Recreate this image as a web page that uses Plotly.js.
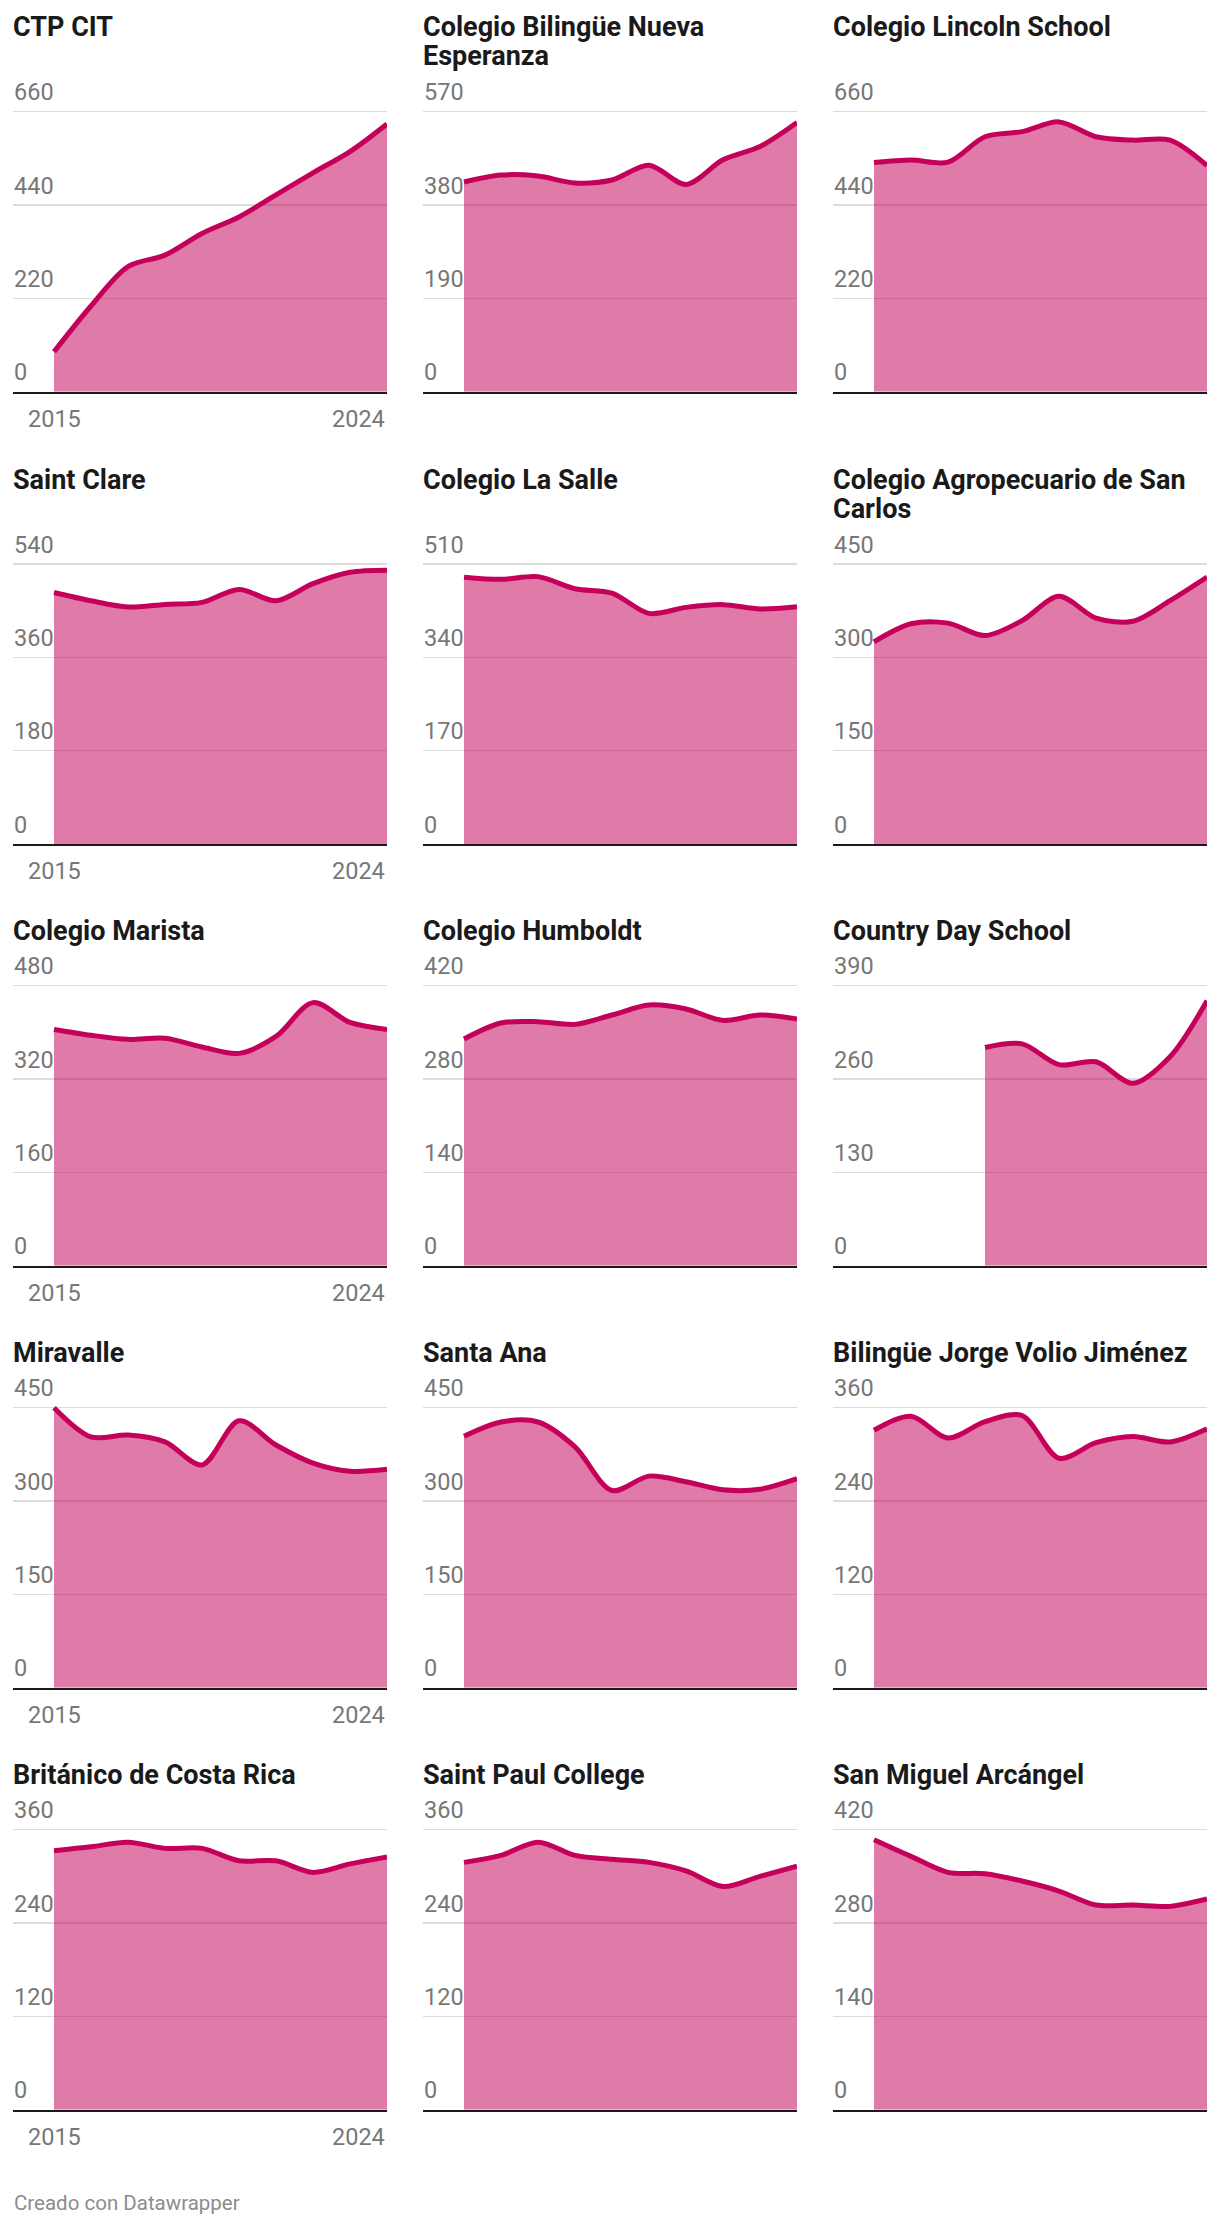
<!DOCTYPE html>
<html>
<head>
<meta charset="utf-8">
<script src="https://cdn.plot.ly/plotly-3.0.1.min.js"></script>
<style>
  html, body { margin: 0; padding: 0; background: #ffffff; }
  #chart { width: 1220px; height: 2226px; }
</style>
</head>
<body>
<div id="chart"></div>
<script>
// ---------- DATA ----------
const years = [2015, 2016, 2017, 2018, 2019, 2020, 2021, 2022, 2023, 2024];

const titles = [
  "CTP CIT",
  "Colegio Bilingüe Nueva<br>Esperanza",
  "Colegio Lincoln School",
  "Saint Clare",
  "Colegio La Salle",
  "Colegio Agropecuario de San<br>Carlos",
  "Colegio Marista",
  "Colegio Humboldt",
  "Country Day School",
  "Miravalle",
  "Santa Ana",
  "Bilingüe Jorge Volio Jiménez",
  "Británico de Costa Rica",
  "Saint Paul College",
  "San Miguel Arcángel"
];

// top of each panel's y axis (ticks at 0, 1/3, 2/3 and the top)
const axisTops = [660, 570, 660, 540, 510, 450, 480, 420, 390, 450, 450, 360, 360, 360, 420];

const ctpCit          = [94, 202, 295, 322, 373, 412, 464, 516, 566, 631];
const nuevaEsperanza  = [427, 441, 439, 425, 431, 461, 422, 472, 499, 548];
const lincolnSchool   = [540, 546, 541, 601, 613, 636, 601, 593, 593, 533];
const saintClare      = [485, 469, 457, 462, 466, 491, 469, 502, 524, 528];
const laSalle         = [486, 482, 487, 465, 457, 420, 431, 436, 428, 432];
const agropecuario    = [325, 354, 355, 335, 359, 398, 363, 358, 391, 429];
const marista         = [405, 395, 388, 390, 375, 364, 393, 451, 417, 405];
const humboldt        = [340, 364, 366, 362, 376, 391, 385, 368, 376, 370];
const countryDay      = [null, null, null, 304, 309, 280, 284, 254, 291, 369];
const miravalle       = [450, 403, 406, 395, 358, 429, 390, 361, 348, 351];
const santaAna        = [404, 427, 427, 387, 317, 340, 331, 318, 319, 336];
const jorgeVolio      = [331, 349, 321, 342, 350, 295, 315, 323, 316, 333];
const britanico       = [333, 338, 344, 336, 336, 320, 320, 305, 316, 325];
const saintPaul       = [318, 327, 344, 327, 322, 318, 307, 287, 300, 313];
const sanMiguel       = [405, 380, 356, 354, 343, 328, 307, 307, 305, 316];

const series = [ctpCit, nuevaEsperanza, lincolnSchool, saintClare, laSalle, agropecuario,
                marista, humboldt, countryDay, miravalle, santaAna, jorgeVolio,
                britanico, saintPaul, sanMiguel];

const xLabelYears = [2015, 2024];
const footerText = "Creado con Datawrapper";

// ---------- STYLE / LAYOUT ----------
const W = 1220, H = 2226;
const rowBase = [391.7, 844, 1265.7, 1687.7, 2109.7];
const plotH = 280;       // baseline to top gridline
const headroom = 6;      // extra px above top gridline so it is drawn inside the plot
const colLeft = 13, colWidth = 374, colPitch = 410;
const dataLeftPad = 41;               // px before first year (label gutter)
const pxPerYear = (colWidth - dataLeftPad) / (years[years.length - 1] - years[0]);
const xStart = years[0] - dataLeftPad / pxPerYear;

const lineColor = '#c4005b';
const fillColor = 'rgba(196,0,91,0.52)';
const tickColor = '#777777';
const titleColor = '#1a1a1a';
const FONT = 'Roboto, "Noto Sans", Arial, sans-serif';

const traces = [];
const annotations = [];
const layout = {
  width: W, height: H,
  margin: {l: 0, r: 0, t: 0, b: 0},
  paper_bgcolor: '#ffffff',
  plot_bgcolor: 'rgba(0,0,0,0)',
  showlegend: false,
  hovermode: false,
  font: {family: FONT, color: tickColor, size: 23.5}
};

// lines per title, max per row
const titleLines = titles.map(t => t.split('<br>'));
const rowMaxLines = [];
titleLines.forEach((l, i) => {
  const r = Math.floor(i / 3);
  rowMaxLines[r] = Math.max(rowMaxLines[r] || 1, l.length);
});

for (let i = 0; i < series.length; i++) {
  const r = Math.floor(i / 3), c = i % 3;
  const sfx = i === 0 ? '' : String(i + 1);
  const B = rowBase[r], T = B - plotH - headroom;
  const x0 = colLeft + colPitch * c, x1 = x0 + colWidth;
  const top = axisTops[i];
  const ticks = [0, top / 3, 2 * top / 3, top];

  layout['xaxis' + sfx] = {
    domain: [x0 / W, x1 / W],
    range: [xStart, years[years.length - 1]],
    anchor: 'y' + sfx,
    showgrid: false, zeroline: false, showticklabels: false, ticks: '',
    showline: true, linecolor: '#1a1a1a', linewidth: 2,
    fixedrange: true
  };
  layout['yaxis' + sfx] = {
    domain: [1 - B / H, 1 - T / H],
    range: [0, top * (plotH + headroom) / plotH],
    anchor: 'x' + sfx,
    tickmode: 'array', tickvals: ticks,
    showticklabels: false, ticks: '',
    showgrid: true, gridcolor: '#dcdcdc', gridwidth: 1.3,
    zeroline: false, showline: false,
    fixedrange: true
  };

  traces.push({
    type: 'scatter', mode: 'lines',
    x: years, y: series[i],
    xaxis: 'x' + sfx, yaxis: 'y' + sfx,
    line: {color: lineColor, width: 5, shape: 'spline', smoothing: 0.9},
    fill: 'tozeroy', fillcolor: fillColor,
    connectgaps: false
  });

  // y tick labels (above gridlines)
  ticks.forEach(v => {
    annotations.push({
      xref: 'x' + sfx + ' domain', yref: 'y' + sfx,
      x: 0, y: v, xanchor: 'left', yanchor: 'bottom',
      xshift: -1, yshift: 3.3,
      text: String(Math.round(v)), showarrow: false,
      font: {family: FONT, size: 23.5, color: tickColor}
    });
  });

  // title lines (positioned relative to the top gridline)
  const lines = titleLines[i];
  const maxL = rowMaxLines[r];
  lines.forEach((ln, k) => {
    annotations.push({
      xref: 'x' + sfx + ' domain', yref: 'y' + sfx + ' domain',
      x: 0, y: 1, xanchor: 'left', yanchor: 'top',
      xshift: -2, yshift: 72.5 - headroom + 29 * (maxL - 1 - k) + (maxL - 1) * 1,
      text: '<b>' + ln + '</b>', showarrow: false,
      font: {family: FONT, size: 27, color: titleColor}
    });
  });

  // x labels on first column only
  if (c === 0) {
    xLabelYears.forEach((yr, k) => {
      annotations.push({
        xref: 'x' + sfx, yref: 'y' + sfx + ' domain',
        x: yr, y: 0, xanchor: k === 0 ? 'center' : 'right', yanchor: 'top',
        yshift: -11.2,
        text: String(yr), showarrow: false,
        font: {family: FONT, size: 23.5, color: tickColor}
      });
    });
  }
}

annotations.push({
  xref: 'paper', yref: 'paper',
  x: 12 / W, y: 1 - 2203 / H, xanchor: 'left', yanchor: 'middle',
  text: footerText, showarrow: false,
  font: {family: FONT, size: 20.5, color: '#8c8c8c'}
});

layout.annotations = annotations;

Plotly.newPlot('chart', traces, layout, {staticPlot: true, displayModeBar: false, responsive: false});
</script>
</body>
</html>
